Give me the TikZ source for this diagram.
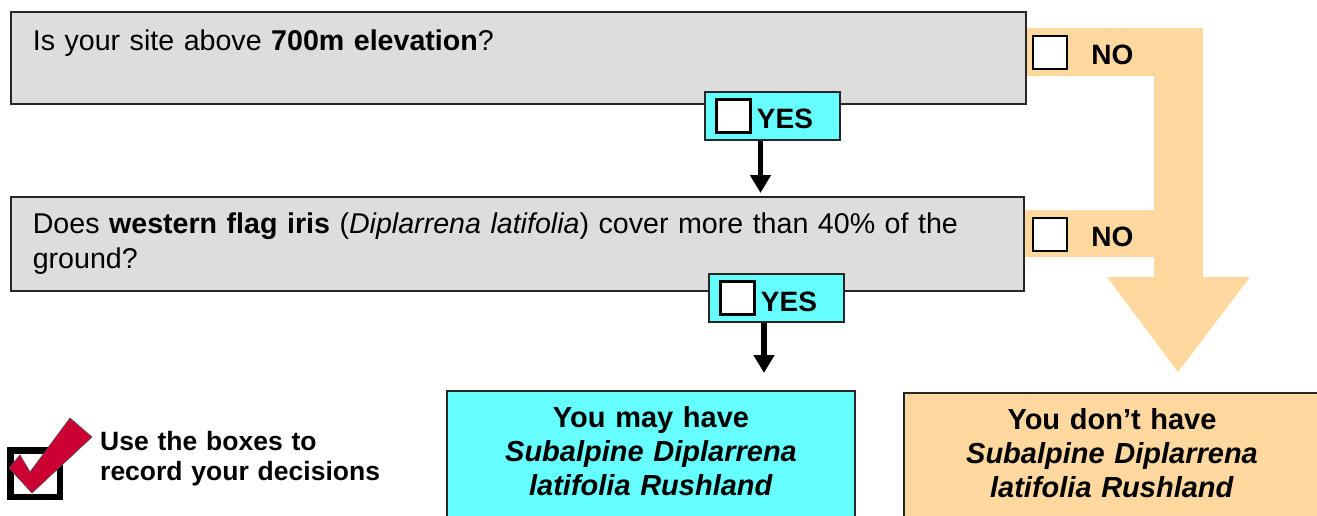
\documentclass[tikz,border=0pt]{standalone}
\usepackage{fontspec}
\setmainfont{Liberation Sans}
\usetikzlibrary{positioning, calc, arrows.meta}

\definecolor{qgray}{HTML}{DDDDDD}
\definecolor{yescyan}{HTML}{66FFFF}
\definecolor{notan}{HTML}{FED89F}
\definecolor{tickred}{HTML}{CC0033}

\tikzset{
  question/.style={draw=black!85, line width=1.6pt, fill=qgray, anchor=north west,
    align=left, inner xsep=22pt, inner ysep=0pt,
    font=\fontsize{28.6}{34.5}\selectfont},
  yesbox/.style={draw=black!85, line width=1.6pt, fill=yescyan, minimum height=48pt,
    text width=81pt, text height=26pt, text depth=0pt, inner xsep=27pt, inner ysep=0pt,
    align=right, font=\bfseries\fontsize{28}{32}\selectfont},
  tickbox/.style={draw=black, line width=2.4pt, fill=white, minimum width=34pt,
    minimum height=33pt, inner sep=0pt},
  nolabel/.style={font=\bfseries\fontsize{28}{32}\selectfont, inner sep=0pt,
    text height=24pt, text depth=0pt},
  result/.style={draw=black!85, line width=1.6pt, anchor=north, align=center,
    inner xsep=10pt, inner ysep=0pt, text height=37pt, text depth=160pt,
    font=\bfseries\fontsize{29}{34}\selectfont},
  flow/.style={-{Triangle[length=18pt,width=20pt]}, line width=5.5pt},
}

\begin{document}
\begin{tikzpicture}[x=1pt, y=-1pt]
  \useasboundingbox (0,0) rectangle (1317,516);
  \clip (0,0) rectangle (1317,516);

  % the NO way, behind the boxes
  \fill[notan] (1010,28) -- (1203,28) -- (1203,277) -- (1250,277) -- (1178,372)
    -- (1107,277) -- (1154,277) -- (1154,257) -- (1010,257) -- (1010,210)
    -- (1154,210) -- (1154,76) -- (1010,76) -- cycle;

  \node[question, text width=971pt, text height=39pt, text depth=53pt] (q1) at (10,11)
    {Is your site above \textbf{700m elevation}?};
  \node[question, text width=969pt, text height=37pt, text depth=57pt] (q2) at (10,196)
    {Does \textbf{western flag iris} (\textit{Diplarrena latifolia}) cover more than 40\% of the\\ground?};

  \node[yesbox] (yes1) at (772.5,116) {YES};
  \node[tickbox, right=11pt of yes1.west] (yes1tick) {};
  \node[yesbox] (yes2) at (776.5,298) {YES};
  \node[tickbox, right=11pt of yes2.west] (yes2tick) {};

  \node[tickbox] (no1tick) at (1050,52.5) {};
  \node[nolabel, right=23pt of no1tick] (no1) {NO};
  \node[tickbox] (no2tick) at (1050,234.5) {};
  \node[nolabel, right=23pt of no2tick] (no2) {NO};

  \node[result, fill=yescyan, text width=388pt] (may) at (651,390)
    {You may have\\\textit{Subalpine Diplarrena}\\\textit{latifolia Rushland}};
  \node[result, fill=notan, text width=396pt] (none) at (1112,392)
    {You don’t have\\\textit{Subalpine Diplarrena}\\\textit{latifolia Rushland}};

  \coordinate (a1) at ([xshift=-12pt]yes1.south);
  \coordinate (a2) at ([xshift=-12.5pt]yes2.south);
  \draw[flow, shorten >=3pt] (a1) -- (a1 |- q2.north);
  \draw[flow, shorten >=17pt] (a2) -- (a2 |- may.north);

  % legend: a ticked box
  \draw[line width=6.5pt] (10.25,450.25) rectangle (59.75,496.75);
  \filldraw[fill=tickred, draw=black!70, line width=0.6pt] (9,468) -- (20,455) -- (30,472)
    -- (70,418) -- (92,437) -- (32,493) -- cycle;
  \node[anchor=base west, text width=290pt, align=left, inner sep=0pt,
    font=\bfseries\fontsize{26.5}{30}\selectfont] (legend) at (100,450)
    {Use the boxes to\\record your decisions};

\end{tikzpicture}
\end{document}
